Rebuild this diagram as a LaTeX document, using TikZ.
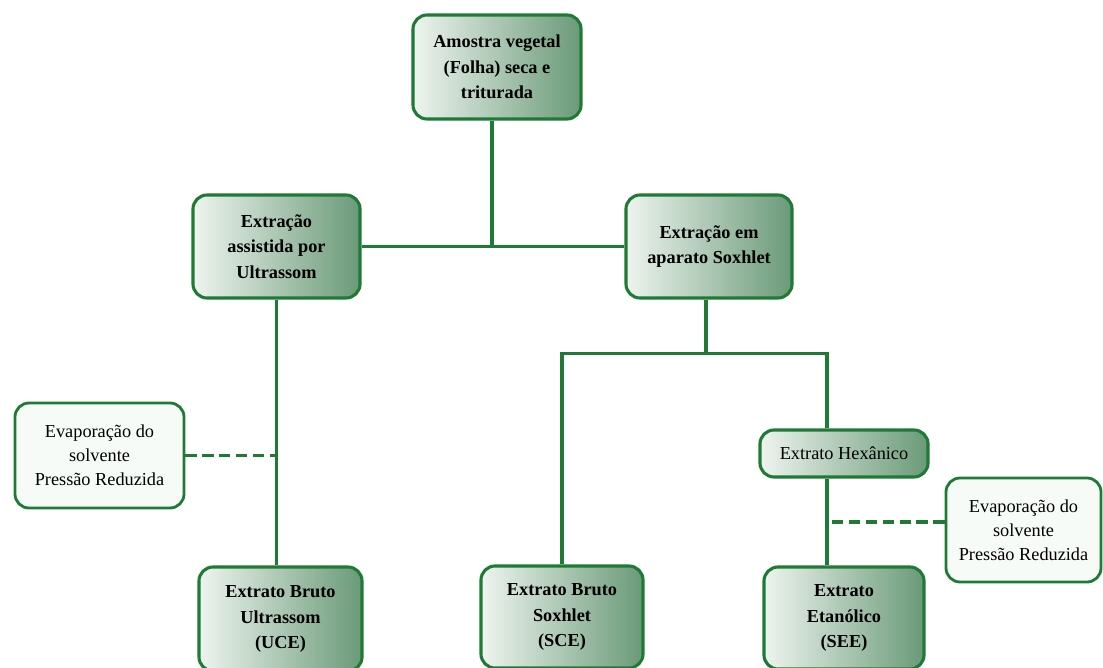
\documentclass[tikz,border=0pt]{standalone}
\usepackage{fontspec}
\setmainfont{Liberation Serif}
\usetikzlibrary{calc}
\definecolor{boxgreen}{HTML}{1F7A35}
\definecolor{shadegreen}{HTML}{6A9A78}
\definecolor{shadelight}{HTML}{EEF4EF}
\definecolor{evapfill}{HTML}{F7FBF7}

\begin{document}
\begin{tikzpicture}[x=0.025cm,y=-0.025cm,
etapa/.style={rectangle, rounded corners=10pt, draw=boxgreen, line width=2.2pt, left color=shadelight, right color=shadegreen, align=center, font=\fontsize{13}{18}\selectfont\bfseries},
evap/.style={rectangle, rounded corners=10pt, draw=boxgreen, line width=2pt, fill=evapfill, align=center, font=\fontsize{13}{17}\selectfont},
link/.style={draw=boxgreen, line width=2.2pt},
link_dash/.style={link, dash pattern=on 8pt off 4pt}
]
\useasboundingbox (0,0) rectangle (1103,668);

\node[etapa, minimum width=4.2cm, minimum height=2.6cm](amostra) at (497,67){Amostra vegetal\\(Folha) seca e\\triturada};
\node[etapa, minimum width=4.175cm, minimum height=2.575cm](ext_ultra) at (276.5,246.5){Extração\\assistida por\\Ultrassom};
\node[etapa, minimum width=4.15cm, minimum height=2.575cm](ext_soxhlet) at (709,246.5){Extração em\\aparato Soxhlet};

\node[evap, minimum width=4.225cm, minimum height=2.625cm](evap_ultra) at (99.5,455.5){Evaporação do\\solvente\\Pressão Reduzida};
\node[etapa, font=\fontsize{13}{17}\selectfont, minimum width=4.2cm, minimum height=1.175cm](hexanico) at (844,453.5){Extrato Hexânico};
\node[evap, minimum width=3.875cm, minimum height=2.6cm](evap_hex) at (1023.5,530){Evaporação do\\solvente\\Pressão Reduzida};

\node[etapa, minimum width=4.075cm, minimum height=2.6cm](uce) at (280.5,619){Extrato Bruto\\Ultrassom\\(UCE)};
\node[etapa, minimum width=4.05cm, minimum height=2.55cm](sce) at (562,617){Extrato Bruto\\Soxhlet\\(SCE)};
\node[etapa, minimum width=4.0cm, minimum height=2.55cm](see) at (844,618){Extrato\\Etanólico\\(SEE)};

\coordinate (top_out) at ($(amostra.south)+(-5,0)$);
\coordinate (split) at ($(ext_soxhlet.south)+(-3,54)$);
\coordinate (hex_in) at ($(hexanico.north)+(-17,0)$);
\coordinate (see_in) at ($(see.north)+(-17,0)$);
\coordinate (evap_in) at ($(evap_hex.west)+(0,-8)$);

\draw[link] (top_out) -- (top_out |- ext_ultra.east);
\draw[link] (ext_ultra.east) -- (ext_soxhlet.west);
\draw[link] (ext_ultra.south) -- (ext_ultra.south |- uce.north);
\draw[link_dash] (evap_ultra.east) -- (evap_ultra.east -| ext_ultra.south);

\draw[link] (ext_soxhlet.south -| split) -- (split);
\draw[link] (sce.north) -- (sce.north |- split) -- (hex_in |- split) -- (hex_in);
\draw[link] (hexanico.south -| see_in) -- (see_in);
\draw[link_dash] (evap_in) -- (evap_in -| see_in);
\end{tikzpicture}
\end{document}
